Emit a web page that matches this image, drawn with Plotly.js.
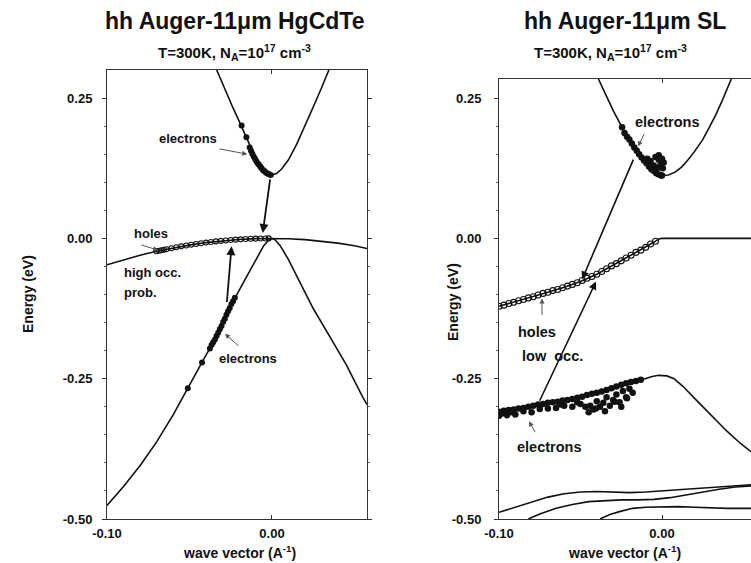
<!DOCTYPE html>
<html>
<head>
<meta charset="utf-8">
<script src="https://cdn.plot.ly/plotly-3.0.1.min.js"></script>
<style>html,body{margin:0;padding:0;background:#fff;}#chart{width:751px;height:563px;}</style>
</head>
<body>
<div id="chart"></div>
<script>
// ---------- HgCdTe panel (left) ----------
const hgCbK = [-0.0335,-0.03,-0.027,-0.024,-0.021,-0.018,-0.015,-0.012,-0.009,-0.006,-0.003,0,0.003,0.006,0.01,0.015,0.02,0.025,0.03,0.0345];
const hgCbE = [0.300,0.275,0.256,0.235,0.216,0.196,0.176,0.155,0.137,0.124,0.116,0.113,0.116,0.124,0.140,0.168,0.200,0.234,0.268,0.300];
const hgHhK = [-0.1,-0.09,-0.08,-0.07,-0.06,-0.05,-0.04,-0.03,-0.02,-0.01,0,0.01,0.02,0.03,0.04,0.05,0.0576];
const hgHhE = [-0.047,-0.038,-0.030,-0.023,-0.017,-0.012,-0.0075,-0.0042,-0.0019,-0.0005,0,-0.0006,-0.0022,-0.0048,-0.0085,-0.013,-0.018];
const hgLhK = [-0.1,-0.09,-0.08,-0.07,-0.06,-0.05,-0.045,-0.04,-0.035,-0.03,-0.025,-0.02,-0.015,-0.01,-0.005,-0.002,0,0.002,0.005,0.01,0.017,0.025,0.037,0.045,0.055,0.0576];
const hgLhE = [-0.476,-0.442,-0.405,-0.363,-0.315,-0.262,-0.233,-0.208,-0.183,-0.152,-0.12,-0.093,-0.066,-0.038,-0.013,-0.003,0,-0.003,-0.013,-0.038,-0.08,-0.125,-0.185,-0.225,-0.283,-0.296];
const hgHoleK = [-0.070,-0.0685,-0.067,-0.0655,-0.064,-0.061,-0.058,-0.055,-0.052,-0.049,-0.046,-0.043,-0.040,-0.037,-0.034,-0.031,-0.028,-0.025,-0.022,-0.019,-0.016,-0.013,-0.010,-0.007,-0.004,-0.002];
const hgHoleE = [-0.023,-0.0221,-0.0211,-0.0202,-0.0193,-0.0175,-0.0158,-0.0142,-0.0127,-0.0113,-0.0099,-0.0087,-0.0075,-0.0064,-0.0054,-0.0045,-0.0037,-0.0029,-0.0023,-0.0017,-0.0012,-0.0008,-0.0005,-0.0002,-0.0001,0];
const hgElCbK = [-0.0184,-0.0155,-0.0135,-0.0127,-0.0119,-0.0111,-0.0103,-0.0095,-0.0087,-0.0079,-0.0071,-0.0063,-0.0055,-0.0047,-0.0039,-0.0031,-0.0023,-0.0015,-0.0007];
const hgElCbE = [0.201,0.180,0.162,0.156,0.151,0.146,0.142,0.138,0.134,0.131,0.128,0.125,0.122,0.120,0.118,0.116,0.115,0.114,0.113];
const hgElVbK = [-0.051,-0.0424,-0.0376,-0.0366,-0.0356,-0.0346,-0.0336,-0.0326,-0.0316,-0.0306,-0.0296,-0.0286,-0.0276,-0.0266,-0.0256,-0.0246,-0.0236,-0.0225];
const hgElVbE = [-0.267,-0.221,-0.196,-0.190,-0.185,-0.180,-0.174,-0.168,-0.162,-0.156,-0.149,-0.143,-0.136,-0.130,-0.124,-0.117,-0.112,-0.106];
// transitions: tail (from) -> head (to)
const hgArrFromK = [-0.0274, -0.001];
const hgArrFromE = [-0.116, 0.108];
const hgArrToK = [-0.0245, -0.0056];
const hgArrToE = [-0.014, 0.0095];

// ---------- SL panel (right) ----------
const slCbK = [-0.039,-0.035,-0.03,-0.0245,-0.02,-0.016,-0.012,-0.008,-0.004,0,0.004,0.008,0.012,0.016,0.02,0.025,0.029,0.033,0.037,0.0425];
const slCbE = [0.284,0.258,0.228,0.198,0.176,0.158,0.142,0.128,0.117,0.112,0.113,0.118,0.127,0.140,0.155,0.176,0.198,0.220,0.246,0.284];
const slHhK = [-0.1,-0.09,-0.08,-0.07,-0.06,-0.05,-0.04,-0.03,-0.02,-0.01,-0.005,-0.002,0,0.01,0.02,0.03,0.04,0.0546];
const slHhE = [-0.121,-0.113,-0.105,-0.096,-0.087,-0.077,-0.064,-0.048,-0.032,-0.016,-0.007,-0.001,0,0,0,0,0,0];
const slVbK = [-0.1,-0.09,-0.08,-0.074,-0.065,-0.054,-0.045,-0.034,-0.025,-0.013,-0.006,-0.002,0.003,0.0074,0.013,0.02,0.03,0.04,0.048,0.0546];
const slVbE = [-0.308,-0.303,-0.298,-0.294,-0.29,-0.285,-0.279,-0.271,-0.263,-0.252,-0.246,-0.244,-0.245,-0.25,-0.264,-0.285,-0.315,-0.344,-0.365,-0.38];
const slL1K = [-0.1,-0.09,-0.08,-0.07,-0.06,-0.05,-0.04,-0.03,-0.02,-0.01,0,0.01,0.02,0.03,0.04,0.0546];
const slL1E = [-0.488,-0.479,-0.469,-0.461,-0.455,-0.452,-0.451,-0.452,-0.453,-0.452,-0.450,-0.448,-0.446,-0.443,-0.441,-0.439];
const slL2K = [-0.082,-0.075,-0.065,-0.055,-0.045,-0.035,-0.025,-0.015,-0.005,0.005,0.015,0.025,0.035,0.045,0.0546];
const slL2E = [-0.5,-0.491,-0.481,-0.474,-0.469,-0.467,-0.466,-0.466,-0.465,-0.462,-0.457,-0.451,-0.447,-0.443,-0.441];
const slL3K = [-0.038,-0.032,-0.025,-0.018,-0.01,0,0.01,0.02,0.03,0.04,0.0546];
const slL3E = [-0.5,-0.492,-0.486,-0.481,-0.479,-0.478,-0.478,-0.479,-0.48,-0.481,-0.481];
const slHoleK = [-0.1,-0.097,-0.094,-0.091,-0.088,-0.085,-0.082,-0.079,-0.076,-0.073,-0.07,-0.067,-0.064,-0.061,-0.058,-0.055,-0.052,-0.049,-0.046,-0.043,-0.04,-0.037,-0.034,-0.031,-0.028,-0.025,-0.022,-0.019,-0.016,-0.013,-0.01,-0.007,-0.004];
const slHoleE = [-0.121,-0.119,-0.116,-0.114,-0.111,-0.109,-0.106,-0.104,-0.101,-0.098,-0.096,-0.093,-0.091,-0.088,-0.085,-0.082,-0.079,-0.075,-0.071,-0.068,-0.064,-0.059,-0.054,-0.049,-0.045,-0.040,-0.035,-0.030,-0.025,-0.021,-0.016,-0.010,-0.005];
const slElCbK = [-0.0245,-0.023,-0.0215,-0.02,-0.0185,-0.017,-0.0155,-0.014,-0.0125,-0.011,-0.0095,-0.008,-0.0065,-0.005,-0.0035,-0.002,-0.0005,0,-0.003,-0.001,0.001,-0.005,-0.002,0.0005,-0.007,-0.002,0,-0.004,-0.0065,-0.009];
const slElCbE = [0.198,0.188,0.181,0.176,0.169,0.162,0.156,0.150,0.144,0.139,0.134,0.128,0.123,0.120,0.116,0.114,0.112,0.112,0.125,0.13,0.135,0.13,0.14,0.125,0.138,0.148,0.142,0.145,0.13,0.142];
const slElVbK = [-0.1,-0.097,-0.094,-0.091,-0.088,-0.085,-0.082,-0.079,-0.076,-0.073,-0.07,-0.067,-0.064,-0.061,-0.058,-0.055,-0.052,-0.049,-0.046,-0.043,-0.04,-0.037,-0.034,-0.031,-0.028,-0.025,-0.022,-0.019,-0.016,-0.013,
  -0.05,-0.047,-0.044,-0.042,-0.04,-0.038,-0.036,-0.034,-0.032,-0.03,-0.028,-0.026,-0.024,-0.022,-0.02,-0.018,-0.025,-0.035,-0.045,-0.055,-0.06,-0.065,-0.07,-0.08,-0.09,-0.095,-0.1,-0.0405,-0.0215,-0.029,
  -0.085,-0.075,-0.062,-0.052,-0.098,-0.092];
const slElVbE = [-0.309,-0.307,-0.306,-0.305,-0.303,-0.302,-0.3,-0.298,-0.296,-0.295,-0.293,-0.292,-0.291,-0.289,-0.288,-0.286,-0.284,-0.282,-0.279,-0.277,-0.275,-0.273,-0.27,-0.267,-0.264,-0.261,-0.258,-0.256,-0.254,-0.252,
  -0.295,-0.3,-0.298,-0.305,-0.29,-0.3,-0.293,-0.283,-0.298,-0.288,-0.278,-0.292,-0.272,-0.283,-0.268,-0.275,-0.3,-0.308,-0.31,-0.3,-0.298,-0.302,-0.303,-0.31,-0.314,-0.315,-0.316,-0.303,-0.285,-0.291,
  -0.308,-0.304,-0.296,-0.292,-0.312,-0.31];
const slArrFromK = [-0.0172, -0.0755];
const slArrFromE = [0.143, -0.292];
const slArrToK = [-0.049, -0.0405];
const slArrToE = [-0.073, -0.077];

// ticks
const xTickVals = [-0.1, 0];
const xTickText = ['-0.10', '0.00'];
const yTickVals = [-0.5, -0.25, 0, 0.25];
const yTickText = ['-0.50', '-0.25', '0.00', '0.25'];

const FONT = 'Liberation Sans, Arial, Helvetica, sans-serif';
const INK = '#111';

function line(k, e, xa, ya) {
  return {x: k, y: e, xaxis: xa, yaxis: ya, mode: 'lines', line: {color: INK, width: 1.6}, hoverinfo: 'skip'};
}
function electrons(k, e, xa, ya, sz) {
  return {x: k, y: e, xaxis: xa, yaxis: ya, mode: 'markers', marker: {symbol: 'circle', size: sz, color: INK}, hoverinfo: 'skip'};
}
function holes(k, e, xa, ya, sz) {
  return {x: k, y: e, xaxis: xa, yaxis: ya, mode: 'markers', marker: {symbol: 'circle-open', size: sz, color: INK, line: {width: 1.1, color: INK}}, hoverinfo: 'skip'};
}

const traces = [
  line(hgCbK, hgCbE, 'x', 'y'),
  line(hgHhK, hgHhE, 'x', 'y'),
  line(hgLhK, hgLhE, 'x', 'y'),
  holes(hgHoleK, hgHoleE, 'x', 'y', 5),
  electrons(hgElCbK, hgElCbE, 'x', 'y', 6),
  electrons(hgElVbK, hgElVbE, 'x', 'y', 6),
  line(slCbK, slCbE, 'x2', 'y2'),
  line(slHhK, slHhE, 'x2', 'y2'),
  line(slVbK, slVbE, 'x2', 'y2'),
  line(slL1K, slL1E, 'x2', 'y2'),
  line(slL2K, slL2E, 'x2', 'y2'),
  line(slL3K, slL3E, 'x2', 'y2'),
  holes(slHoleK, slHoleE, 'x2', 'y2', 6),
  electrons(slElCbK, slElCbE, 'x2', 'y2', 6.5),
  electrons(slElVbK, slElVbE, 'x2', 'y2', 6.5)
];

const tickFont = {family: FONT, size: 13, color: INK, weight: 'bold'};

function xAxis(domain, range, anchor) {
  return {domain: domain, range: range, anchor: anchor, showline: true, linecolor: '#333', linewidth: 1,
    mirror: 'ticks', ticks: 'inside', ticklen: 4, tickcolor: '#333', tickvals: xTickVals, ticktext: xTickText,
    tickfont: tickFont, showgrid: false, zeroline: false, fixedrange: true, automargin: false, ticklabelstandoff: 2};
}
function yAxis(domain, range, anchor, mirror, standoff) {
  return {domain: domain, range: range, anchor: anchor, showline: true, linecolor: '#333', linewidth: 1,
    mirror: mirror, ticks: 'outside', ticklen: 4, tickcolor: '#333', tickvals: yTickVals, ticktext: yTickText,
    minor: {tickvals: [-0.45,-0.4,-0.35,-0.3,-0.2,-0.15,-0.1,-0.05,0.05,0.1,0.15,0.2], ticks: 'outside', ticklen: 2, tickcolor: '#555'},
    tickfont: tickFont, showgrid: false, zeroline: false, fixedrange: true, automargin: false, ticklabelstandoff: standoff};
}

function txt(text, x, y, xr, yr, size, opts) {
  return Object.assign({text: text, x: x, y: y, xref: xr, yref: yr, showarrow: false,
    xanchor: 'center', yanchor: 'middle',
    font: {family: FONT, size: size, color: INK, weight: 'bold'}}, opts || {});
}
function arrow(xa, ya, fromK, fromE, toK, toE, w, color, head) {
  return {x: toK, y: toE, ax: fromK, ay: fromE, xref: xa, yref: ya, axref: xa, ayref: ya, text: '',
    showarrow: true, arrowhead: head, arrowsize: 1, arrowwidth: w, arrowcolor: color, standoff: 0, startstandoff: 0};
}

const annotations = [
  txt('hh Auger-11μm HgCdTe', 234/751, 1 - 21/563, 'paper', 'paper', 23),
  txt('T=300K, N<sub>A</sub>=10<sup>17</sup> cm<sup>-3</sup>', 234/751, 1 - 52/563, 'paper', 'paper', 15),
  txt('hh Auger-11μm SL', 625/751, 1 - 21/563, 'paper', 'paper', 23),
  txt('T=300K, N<sub>A</sub>=10<sup>17</sup> cm<sup>-3</sup>', 610/751, 1 - 52/563, 'paper', 'paper', 15),
  txt('Energy (eV)', 28/751, 1 - 294/563, 'paper', 'paper', 14, {textangle: -90}),
  txt('Energy (eV)', 453/751, 1 - 302/563, 'paper', 'paper', 14, {textangle: -90}),
  txt('wave vector (A<sup>-1</sup>)', 239/751, 1 - 552/563, 'paper', 'paper', 14),
  txt('wave vector (A<sup>-1</sup>)', 624/751, 1 - 552/563, 'paper', 'paper', 14),
  // left labels
  txt('electrons', -0.0509, 0.178, 'x', 'y', 13),
  txt('holes', -0.0733, 0.009, 'x', 'y', 13),
  txt('high occ.', -0.0909, -0.061, 'x', 'y', 13, {xanchor: 'left'}),
  txt('prob.', -0.0909, -0.097, 'x', 'y', 13, {xanchor: 'left'}),
  txt('electrons', -0.0145, -0.214, 'x', 'y', 13),
  // right labels
  txt('electrons', 0.003, 0.207, 'x2', 'y2', 14.5),
  txt('holes', -0.0767, -0.167, 'x2', 'y2', 14.5),
  txt('low\u00a0\u00a0occ.', -0.0669, -0.209, 'x2', 'y2', 14.5),
  txt('electrons', -0.0693, -0.372, 'x2', 'y2', 14.5),
  // label pointers
  arrow('x', 'y', -0.0327, 0.160, -0.015, 0.150, 1, '#555', 2),
  arrow('x', 'y', -0.080, -0.011, -0.069, -0.021, 1, '#555', 2),
  arrow('x', 'y', -0.0194, -0.194, -0.0285, -0.170, 1, '#555', 2),
  arrow('x2', 'y2', -0.0736, -0.139, -0.0736, -0.107, 1, '#555', 2),
  arrow('x2', 'y2', -0.0773, -0.348, -0.0816, -0.326, 1, '#555', 2),
  arrow('x2', 'y2', -0.0104, 0.189, -0.0147, 0.164, 1, '#555', 2)
];
for (let i = 0; i < hgArrFromK.length; i++) {
  annotations.push(arrow('x', 'y', hgArrFromK[i], hgArrFromE[i], hgArrToK[i], hgArrToE[i], 1.8, INK, 2));
}
for (let i = 0; i < slArrFromK.length; i++) {
  annotations.push(arrow('x2', 'y2', slArrFromK[i], slArrFromE[i], slArrToK[i], slArrToE[i], 1.6, INK, 2));
}

const layout = {
  width: 751, height: 563,
  margin: {l: 0, r: 0, t: 0, b: 0},
  paper_bgcolor: '#fff', plot_bgcolor: '#fff',
  showlegend: false,
  xaxis: xAxis([107/751, 367/751], [-0.1, 0.0576], 'y'),
  yaxis: yAxis([44/563, 493/563], [-0.5, 0.3], 'x', 'ticks', 7),
  xaxis2: xAxis([499/751, 1], [-0.1, 0.0546], 'y2'),
  yaxis2: yAxis([44/563, 484/563], [-0.5, 0.284], 'x2', false, 10),
  annotations: annotations
};

Plotly.newPlot('chart', traces, layout, {displayModeBar: false, staticPlot: true});
</script>
</body>
</html>
